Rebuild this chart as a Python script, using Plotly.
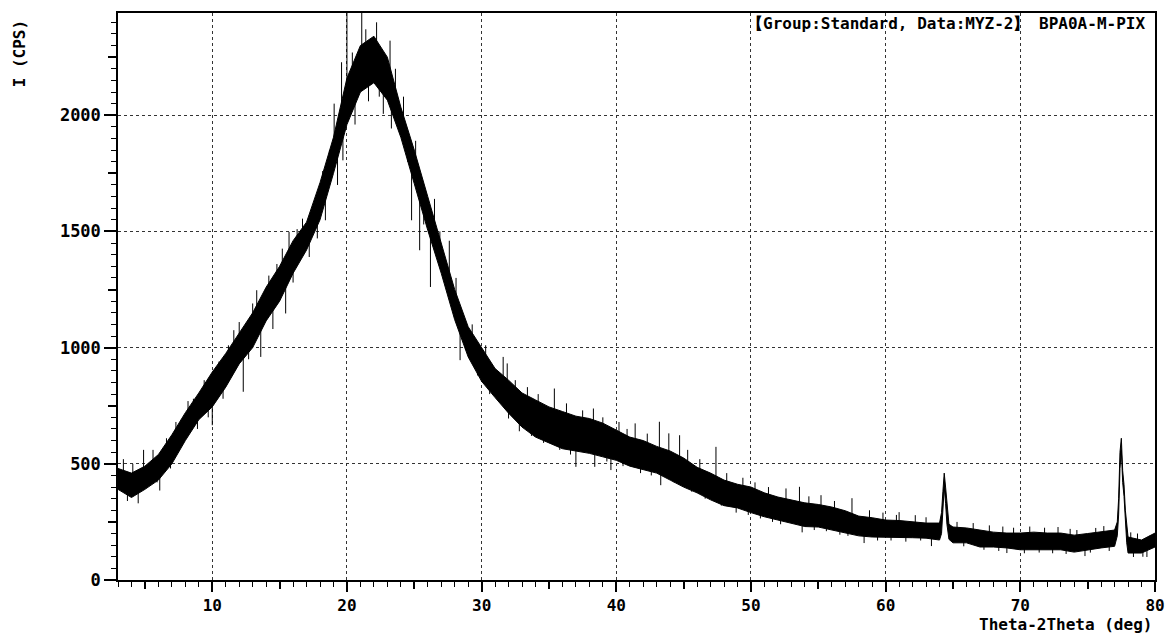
import plotly.graph_objects as go

# ---- data ----
# envelope of the dense noisy trace (2theta in deg, intensity in CPS)
env_x = [3, 4, 5, 6, 7, 8, 9, 10, 11, 12, 13, 14, 15, 16, 17, 18, 19, 20,
         21, 22, 23, 24, 25, 26, 27, 28, 29, 30, 31, 32, 33, 34, 35, 36, 37,
         38, 39, 40, 41, 42, 43, 44, 45, 46, 47, 48, 49, 50, 51, 52, 53, 54,
         55, 56, 57, 58, 59, 60, 61, 62, 63, 64, 64.15, 64.25, 64.35, 64.45,
         64.55, 64.7, 65, 66, 67, 68, 69, 70, 71, 72, 73, 74, 75, 76, 77,
         77.2, 77.3, 77.4, 77.5, 77.6, 77.7, 77.8, 77.9, 78, 79, 80]
env_low = [390, 355, 390, 430, 500, 600, 690, 745, 830, 930, 1000, 1115, 1200,
           1320, 1420, 1550, 1750, 1960, 2100, 2140, 2065, 1905, 1705, 1505,
           1320, 1120, 960, 855, 785, 718, 658, 615, 590, 565, 555, 545, 530,
           515, 490, 475, 460, 430, 400, 375, 345, 320, 310, 290, 272, 258,
           245, 230, 228, 215, 202, 190, 185, 185, 185, 182, 180, 172, 200,
           300, 400, 330, 240, 175, 160, 160, 142, 142, 138, 130, 130, 130,
           130, 120, 130, 138, 145, 190, 280, 480, 560, 420, 360, 230, 160,
           116, 116, 142]
env_high = [480, 460, 490, 540, 625, 720, 805, 895, 975, 1060, 1150, 1260,
            1350, 1460, 1540, 1710, 1905, 2160, 2300, 2340, 2250, 2035, 1850,
            1650, 1450, 1250, 1090, 1000, 910, 860, 805, 775, 745, 725, 705,
            695, 675, 645, 615, 600, 575, 555, 525, 485, 460, 430, 412, 400,
            375, 357, 345, 332, 325, 314, 298, 275, 268, 258, 256, 250, 245,
            245, 290, 380, 460, 400, 320, 240, 228, 224, 215, 206, 202, 202,
            206, 202, 202, 193, 200, 206, 215, 250, 350, 550, 610, 470, 410,
            300, 220, 185, 172, 202]

# isolated noise spikes: position, start level, tip level
spike_x = [4.1, 4.9, 6.1, 7.3, 8.2, 10.0, 11.6, 12.3, 13.3, 13.6, 15.2, 15.45,
           15.7, 16.7, 18.4, 19.05, 19.6, 19.7, 20.0, 21.1, 22.2, 22.7, 23.2,
           23.3, 24.8, 25.4, 26.2, 26.9, 28.4, 31.6, 31.9, 32.0, 35.4, 37.0,
           38.3, 38.4, 39.6, 41.4, 43.2, 43.3, 43.9, 44.7, 47.4, 48.9, 52.6,
           53.6, 53.8, 55.2, 57.5, 58.4, 61.0, 62.2, 63.4, 69.0, 74.8, 75.6,
           78.4, 79.4, 79.9,
           3.4, 3.7, 4.5, 5.6, 5.9, 6.6, 6.9, 7.7, 8.6, 8.9, 9.4, 9.7, 10.5,
           10.8, 11.2, 12.0, 12.7, 13.0, 14.2, 14.5, 14.8, 16.0, 16.3, 17.2,
           17.5, 17.8, 18.2, 18.7, 19.3, 20.4, 20.6, 21.4, 21.6, 22.4, 23.6,
           23.8, 24.2, 24.5, 25.1, 25.7, 26.5, 27.3, 27.6, 28.1, 28.8, 29.3,
           29.7, 30.3, 30.6, 32.5, 32.8, 33.4, 33.7, 34.2, 34.6, 35.8, 36.3,
           36.6, 37.5, 39.0, 39.3, 40.2, 40.5, 40.8, 41.8, 42.3, 42.6, 44.3,
           45.3, 45.6, 46.2, 46.6, 47.8, 48.2, 49.4, 49.8, 50.3, 50.7, 51.3,
           51.6, 52.2, 54.3, 54.7, 55.6, 56.2, 56.6, 57.2, 58.8, 59.4, 59.8,
           60.4, 60.8, 61.5, 62.6, 63.0, 65.3, 65.8, 66.5, 67.3, 67.7, 68.4,
           68.7, 69.5, 70.3, 70.7, 71.4, 71.8, 72.4, 72.8, 73.4, 73.7, 74.2,
           75.2, 76.2, 76.6, 78.2, 78.7, 79.1, 79.6]
spike_base = [410, 430, 480, 560, 660, 820, 950, 1000, 1100, 1120, 1300, 1300,
              1380, 1470, 1700, 1850, 1950, 1950, 2050, 2200, 2250, 2200, 2150,
              2100, 1800, 1700, 1550, 1400, 1100, 850, 800, 780, 680, 630,
              630, 620, 590, 560, 520, 520, 500, 480, 400, 370, 300,
              290, 290, 280, 250, 230, 220, 220, 210, 170, 160, 165,
              150, 145, 170,
              435, 420, 410, 470, 480, 530, 550, 630, 710, 740, 780, 800, 860,
              880, 920, 990, 1050, 1070, 1200, 1230, 1260, 1390, 1410, 1500,
              1550, 1590, 1660, 1780, 1880, 2100, 2130, 2220, 2230, 2230, 2060,
              2000, 1940, 1880, 1760, 1620, 1480, 1330, 1290, 1180, 1050, 980,
              950, 900, 880, 760, 740, 720, 700, 690, 680, 650, 640,
              635, 625, 600, 595, 575, 565, 555, 540, 530, 525, 485,
              455, 445, 425, 410, 375, 370, 360, 350, 335, 325, 315,
              310, 305, 280, 278, 270, 262, 258, 245, 228, 225, 222,
              222, 222, 220, 215, 212, 192, 192, 185, 178, 176, 172,
              172, 168, 166, 166, 166, 166, 166, 166, 164, 162, 160,
              165, 172, 175, 150, 147, 145, 160]
spike_tip = [500, 560, 385, 680, 770, 666, 1075, 810, 1247, 960, 1426, 1147,
             1498, 1555, 1548, 2050, 2228, 1806, 2600, 2600, 2400, 2006, 2321,
             1943, 1548, 1419, 1261, 1500, 946, 960, 932, 695, 824, 487,
             738, 487, 473, 674, 681, 408, 631, 623, 573, 290, 394,
             401, 205, 365, 352, 159, 292, 279, 146, 116, 103, 224,
             99, 99, 193,
             520, 340, 330, 560, 420, 610, 480, 690, 780, 650, 860, 700, 940,
             780, 1010, 1110, 950, 1190, 1310, 1080, 1360, 1280, 1510, 1390,
             1600, 1470, 1760, 1850, 1700, 2270, 1960, 2370, 2060, 2080, 2200,
             1950, 2080, 1800, 1890, 1530, 1640, 1280, 1460, 1300, 990, 1100,
             880, 1010, 800, 860, 640, 830, 620, 800, 590, 560, 760,
             540, 730, 700, 510, 680, 490, 650, 460, 630, 450, 420,
             560, 380, 520, 350, 320, 460, 440, 280, 420, 265, 400,
             250, 240, 360, 215, 210, 340, 195, 190, 300, 170, 290,
             170, 280, 165, 170, 270, 250, 145, 245, 130, 235, 125,
             230, 225, 115, 230, 118, 225, 115, 228, 112, 220, 215,
             118, 232, 125, 205, 200, 100, 190]

x_major = [10, 20, 30, 40, 50, 60, 70, 80]
x_major_text = ["10", "20", "30", "40", "50", "60", "70", "80"]
x_mid = [5, 15, 25, 35, 45, 55, 65, 75]
y_major = [0, 500, 1000, 1500, 2000]
y_mid = [250, 750, 1250, 1750, 2250]

title_text = "【Group:Standard, Data:MYZ-2】 BPA0A-M-PIX"

# ---- figure ----
FONT = "DejaVu Sans Mono"
fig = go.Figure()

fig.add_trace(go.Scatter(x=env_x, y=env_low, mode="lines",
                         line=dict(color="black", width=1),
                         hoverinfo="skip", showlegend=False))
fig.add_trace(go.Scatter(x=env_x, y=env_high, mode="lines", fill="tonexty",
                         fillcolor="black", line=dict(color="black", width=1),
                         hoverinfo="skip", showlegend=False))

sx, sy = [], []
for x, b, t in zip(spike_x, spike_base, spike_tip):
    sx += [x, x, None]
    sy += [b, t, None]
fig.add_trace(go.Scatter(x=sx, y=sy, mode="lines",
                         line=dict(color="black", width=1),
                         hoverinfo="skip", showlegend=False))

# helper trace for the overlay axes carrying the 5-unit / 250-unit ticks
fig.add_trace(go.Scatter(x=[3], y=[0], xaxis="x2", yaxis="y2", mode="markers",
                         marker=dict(opacity=0), hoverinfo="skip",
                         showlegend=False))

tickfont = dict(family=FONT, size=17, color="black", weight="bold")
xtickfont = dict(family=FONT, size=16, color="black", weight="bold")

fig.update_layout(
    width=1166, height=633,
    margin=dict(l=118, r=11, t=13, b=53, autoexpand=False),
    paper_bgcolor="white", plot_bgcolor="white",
    showlegend=False,
    xaxis=dict(range=[3, 80], tickmode="array", tickvals=x_major,
               ticktext=x_major_text, ticks="outside", ticklen=10,
               tickwidth=1.5, tickcolor="black", tickfont=xtickfont,
               showline=True, linecolor="black", linewidth=1.5, mirror=True,
               showgrid=True, gridcolor="#333333", gridwidth=1,
               griddash="dot", zeroline=False, automargin=False,
               minor=dict(dtick=1, tick0=0, ticks="outside", ticklen=5,
                          tickcolor="black", tickwidth=1, showgrid=False)),
    yaxis=dict(range=[0, 2440], tickmode="array", tickvals=y_major,
               ticks="outside", ticklen=12, tickwidth=1.5, tickcolor="black",
               tickfont=tickfont, showline=True, linecolor="black",
               linewidth=1.5, mirror=True, showgrid=True,
               gridcolor="#333333", gridwidth=1, griddash="dot",
               zeroline=False, automargin=False,
               minor=dict(dtick=50, tick0=0, ticks="outside", ticklen=5,
                          tickcolor="black", tickwidth=1, showgrid=False)),
    xaxis2=dict(overlaying="x", anchor="y", side="bottom", range=[3, 80],
                tickmode="array", tickvals=x_mid, ticks="outside",
                ticklen=8, tickwidth=1.5, tickcolor="black",
                showticklabels=False, showgrid=False, showline=False,
                zeroline=False, automargin=False),
    yaxis2=dict(overlaying="y", anchor="x", side="left", range=[0, 2440],
                tickmode="array", tickvals=y_mid, ticks="outside",
                ticklen=9, tickwidth=1.5, tickcolor="black",
                showticklabels=False, showgrid=False, showline=False,
                zeroline=False, automargin=False),
    annotations=[
        dict(text=title_text, xref="paper", yref="paper", x=0.9925, y=0.981,
             xanchor="right", yanchor="middle", showarrow=False,
             font=dict(family=FONT, size=16, color="black", weight="bold")),
        dict(text="I (CPS)", xref="paper", yref="paper", x=-0.095, y=0.928,
             xanchor="center", yanchor="middle", textangle=-90,
             showarrow=False,
             font=dict(family=FONT, size=16, color="black", weight="bold")),
        dict(text="Theta-2Theta (deg)", xref="paper", yref="paper", x=0.999,
             y=-0.0785, xanchor="right", yanchor="middle",
             showarrow=False,
             font=dict(family=FONT, size=16, color="black", weight="bold")),
    ],
)

fig.write_html("out.html")
